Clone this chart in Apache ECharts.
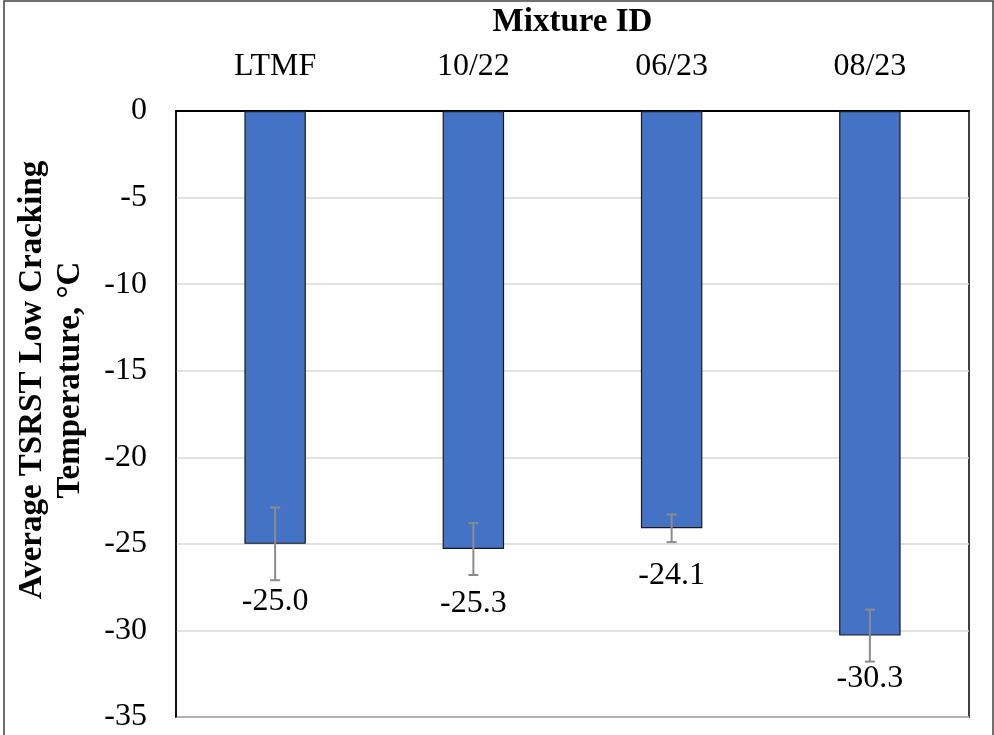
<!DOCTYPE html>
<html>
<head>
<meta charset="utf-8">
<script src="https://cdn.jsdelivr.net/npm/echarts@6/dist/echarts.min.js"></script>
<style>
  html, body { margin: 0; padding: 0; background: #fff; }
  #chart { width: 994px; height: 735px; }
</style>
</head>
<body>
<div id="chart"></div>
<script>
// data
var mixtures = ['LTMF', '10/22', '06/23', '08/23'];
var avgTemp = [-25.0, -25.3, -24.1, -30.3];
var errTemp = [2.1, 1.5, 0.8, 1.5];
var yTicks = [0, -5, -10, -15, -20, -25, -30, -35];

// label distance below bar end, px (labels were hand-placed in the original)
var labelShift = [58, 55, 47, 43];

var serif = 'Liberation Serif, Times New Roman, serif';

var chart = echarts.init(document.getElementById('chart'));

var errData = avgTemp.map(function (v, i) { return [i, v, errTemp[i]]; });

var option = {
  backgroundColor: '#fff',
  animation: false,
  graphic: [{
    type: 'rect',
    shape: { x: 4, y: 1, width: 989, height: 760 },
    style: { fill: 'none', stroke: '#404040', lineWidth: 1.5 },
    silent: true
  }],
  grid: {
    left: 176, top: 111, right: 25, bottom: 18,
    outerBoundsMode: 'none',
    containLabel: false,
    show: true, borderColor: '#000', borderWidth: 1.5
  },
  xAxis: {
    type: 'category',
    position: 'top',
    data: mixtures,
    name: 'Mixture ID',
    nameLocation: 'middle',
    nameGap: 72,
    nameTextStyle: { fontFamily: serif, fontSize: 33, fontWeight: 'bold', color: '#000' },
    axisLine: { show: true, lineStyle: { color: '#000', width: 2 } },
    axisTick: { show: false },
    axisLabel: { fontFamily: serif, fontSize: 32, color: '#000', margin: 28 }
  },
  yAxis: {
    type: 'value',
    min: yTicks[yTicks.length - 1],
    max: yTicks[0],
    interval: 5,
    name: 'Average TSRST Low Cracking\nTemperature, °C',
    nameLocation: 'middle',
    nameRotate: 90,
    nameGap: 87,
    nameTextStyle: {
      fontFamily: serif, fontSize: 33, fontWeight: 'bold', color: '#000',
      lineHeight: 38, align: 'center', padding: [0, 0, 0, 68]
    },
    axisLine: { show: true, lineStyle: { color: '#000', width: 1.5 } },
    axisTick: { show: false },
    splitLine: { lineStyle: { color: '#d9d9d9', width: 1.5 } },
    axisLabel: { fontFamily: serif, fontSize: 32, color: '#000', margin: 29 }
  },
  series: [
    {
      type: 'bar',
      data: avgTemp,
      barWidth: '31%',
      itemStyle: { color: '#4472C4', borderColor: '#1a1a1a', borderWidth: 1.2 }
    },
    {
      type: 'custom',
      data: errData,
      z: 10,
      renderItem: function (params, api) {
        var i = params.dataIndex;
        var v = api.value(1), e = api.value(2);
        var top = api.coord([api.value(0), v + e]);
        var bot = api.coord([api.value(0), v - e]);
        var end = api.coord([api.value(0), v]);
        var cap = 5;
        var ls = { stroke: '#8c8c8c', lineWidth: 2 };
        return {
          type: 'group',
          children: [
            { type: 'line', shape: { x1: top[0], y1: top[1], x2: bot[0], y2: bot[1] }, style: ls },
            { type: 'line', shape: { x1: top[0] - cap, y1: top[1], x2: top[0] + cap, y2: top[1] }, style: ls },
            { type: 'line', shape: { x1: bot[0] - cap, y1: bot[1], x2: bot[0] + cap, y2: bot[1] }, style: ls },
            {
              type: 'text',
              style: {
                text: v.toFixed(1),
                x: end[0], y: end[1] + labelShift[i],
                align: 'center', verticalAlign: 'middle',
                font: '32px ' + serif, fill: '#000'
              }
            }
          ]
        };
      }
    }
  ]
};

chart.setOption(option);
</script>
</body>
</html>
